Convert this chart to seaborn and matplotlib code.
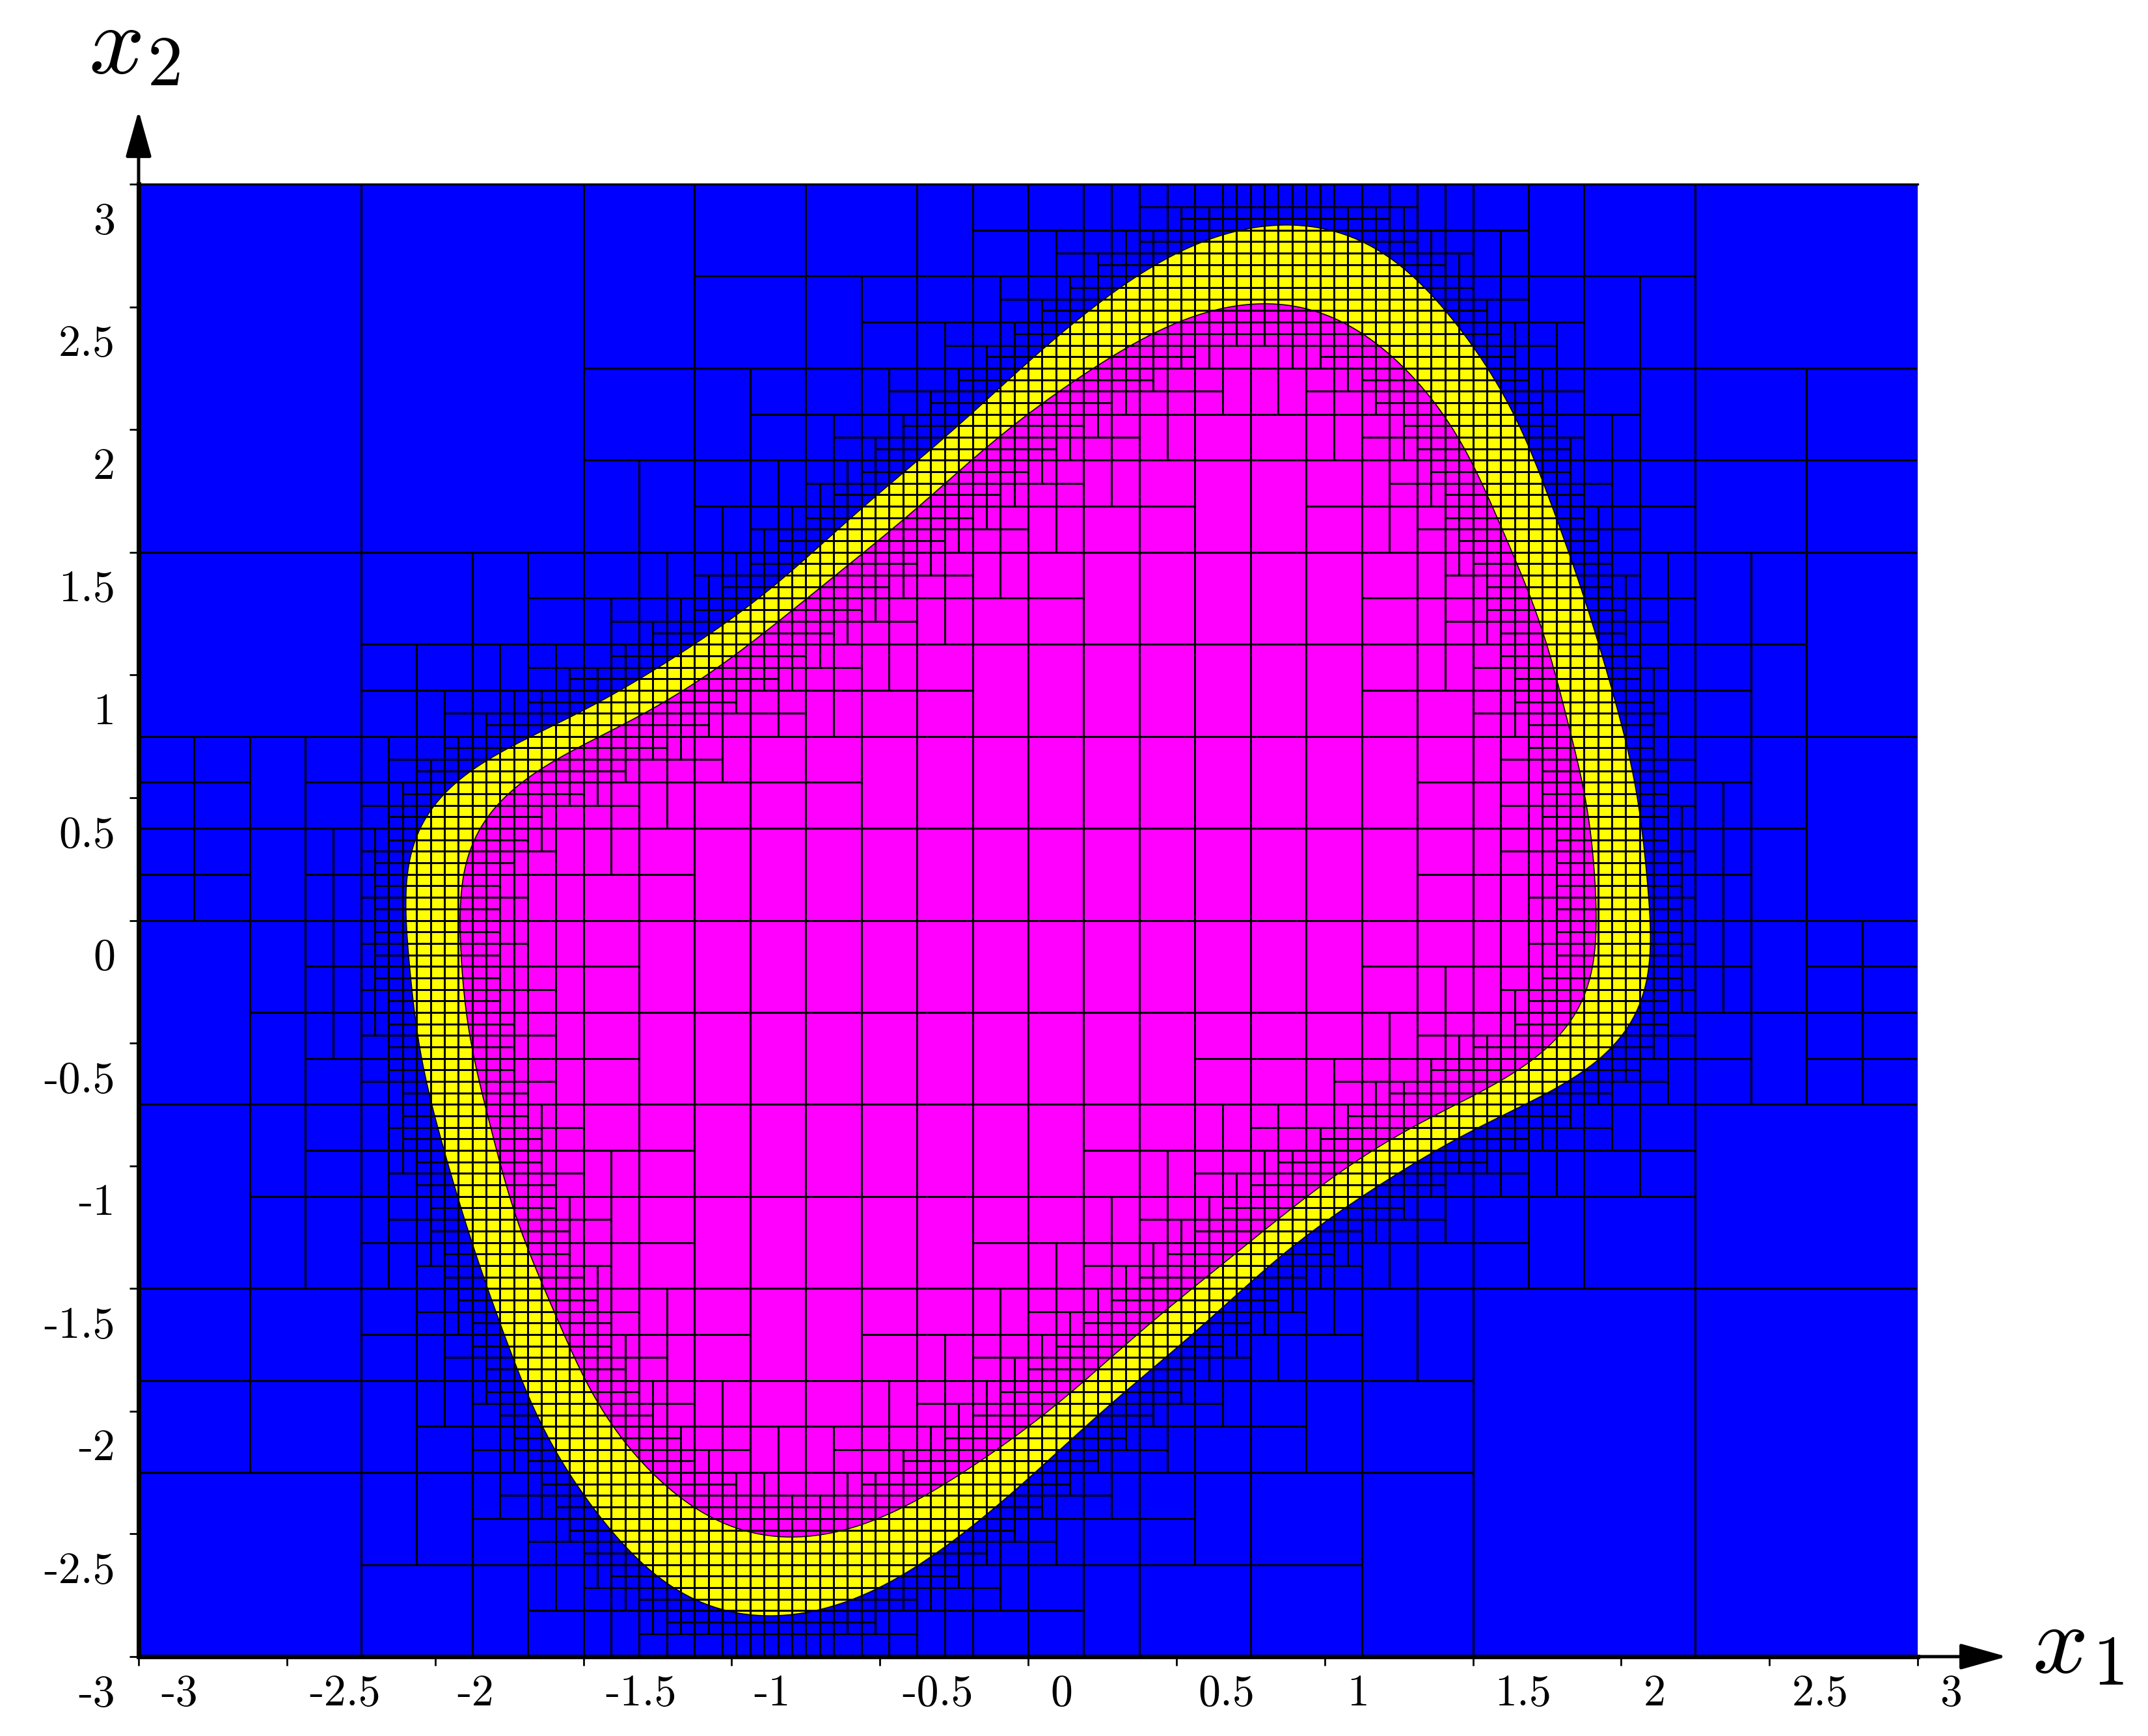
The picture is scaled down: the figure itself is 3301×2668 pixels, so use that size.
import numpy as np
import seaborn as sns
import matplotlib.pyplot as plt
from matplotlib.collections import PolyCollection
from matplotlib.path import Path

# -------------------------------
# 1. Values
# -------------------------------
outer_x = [-1.882, -1.974, -2.036, -2.082, -2.097, -2.090, -2.051, -1.989, -1.882, -1.774, -1.466, -1.174,
           -0.965, -0.657, -0.426, -0.195, -0.041, 0.113, 0.267, 0.420, 0.574, 0.728, 0.859,
           1.076, 1.230, 1.383, 1.537, 1.615, 1.691, 1.768, 1.845, 1.922,
           2.014, 2.060, 2.087, 2.096, 2.078, 2.032, 1.959, 1.868, 1.723, 1.468, 1.249, 1.086,
           0.882, 0.574, 0.267, -0.041, -0.349, -0.580, -0.811, -0.903, -1.119, -1.273,
           -1.497, -1.620, -1.774]
outer_y = [-1.287, -0.940, -0.621, -0.271, 0.034, 0.216, 0.384, 0.490, 0.612, 0.688, 0.901, 1.099,
           1.257, 1.576, 1.812, 2.086, 2.231, 2.413, 2.550, 2.665, 2.756, 2.817, 2.836,
           2.794, 2.687, 2.520, 2.261, 2.094, 1.926, 1.683, 1.439, 1.120,
           0.718, 0.460, 0.186, -0.042, -0.271, -0.423, -0.529, -0.613, -0.712, -0.864, -1.016, -1.153,
           -1.345, -1.668, -1.976, -2.284, -2.607, -2.754, -2.828, -2.835, -2.769, -2.651,
           -2.343, -2.138, -1.653]

inner_x = [-1.708, -1.820, -1.882, -1.913, -1.913, -1.897, -1.836, -1.728, -1.543, -1.312, -1.053,
           -0.811, -0.657, -0.503, -0.349, -0.195, -0.041, 0.113, 0.267, 0.420, 0.574, 0.790, 0.959,
           1.230, 1.383, 1.537, 1.615, 1.691, 1.768,
           1.814, 1.868, 1.905, 1.914, 1.905, 1.868, 1.814, 1.705, 1.541, 1.359, 1.140,
           0.728, 0.420, 0.113, -0.195, -0.426, -0.657, -0.811, -0.965, -1.119, -1.273,
           -1.466, -1.589]
inner_y = [-1.287, -0.803, -0.469, -0.195, 0.034, 0.232, 0.414, 0.551, 0.703, 0.871, 1.031,
           1.257, 1.394, 1.538, 1.698, 1.881, 2.018, 2.170, 2.292, 2.391, 2.467, 2.517, 2.474,
           2.292, 2.094, 1.759, 1.531, 1.318, 1.044,
           0.840, 0.566, 0.262, 0.034, -0.164, -0.316, -0.438, -0.552, -0.666, -0.788, -0.925,
           -1.330, -1.653, -1.947, -2.226, -2.387, -2.490, -2.516, -2.490, -2.402, -2.240,
           -1.932, -1.639]

tick_values = [-3, -2.5, -2, -1.5, -1, -0.5, 0, 0.5, 1, 1.5, 2, 2.5, 3]
tick_labels = ["-3", "-2.5", "-2", "-1.5", "-1", "-0.5", "0", "0.5", "1", "1.5", "2", "2.5", "3"]

# boxes of the paving seen in the picture: split further (x0, x1, y0, y1, largest mean cell side)
forced_split = [(-3, -2.625, 0, 0.75, 0.2),
                (-3, -2.25, -2.25, -1.5, 0.4),
                (-2.25, -1.5, 1.5, 2.25, 0.6),
                (-1.5, -0.75, 2.25, 3, 0.6),
                (-1.125, -0.75, 2.25, 3, 0.4)]

k_inner = 1.5
max_depth = 14

W, H = 3301, 2668
left, right, top, bottom = 213, 2947, 283, 2546


# -------------------------------
# 2. Boundaries and subdivision
# -------------------------------
def smooth_closed(xs, ys, harmonics=17, n=900):
    # odd harmonics only, the curve maps onto itself through the origin
    z = np.array(xs) + 1j * np.array(ys)
    seg = np.abs(np.roll(z, -1) - z)
    t = np.r_[0, np.cumsum(seg)[:-1]] / seg.sum() * 2 * np.pi
    k = np.arange(-harmonics, harmonics + 1, 2)
    coef = np.linalg.lstsq(np.exp(1j * np.outer(t, k)), z, rcond=1e-3)[0]
    tt = np.linspace(0, 2 * np.pi, n, endpoint=False)
    zz = np.exp(1j * np.outer(tt, k)) @ coef
    return np.c_[zz.real, zz.imag]


outer = smooth_closed(outer_x, outer_y)
inner = smooth_closed(inner_x, inner_y)
outer_path = Path(np.r_[outer, outer[:1]])
inner_path = Path(np.r_[inner, inner[:1]])


def box_dist(x0, x1, y0, y1, pts):
    dx = np.maximum(np.maximum(x0 - pts[:, 0], pts[:, 0] - x1), 0)
    dy = np.maximum(np.maximum(y0 - pts[:, 1], pts[:, 1] - y1), 0)
    return np.sqrt(dx * dx + dy * dy).min()


def k_outer(size):
    if size <= 0.3:
        return 1.0
    if size <= 0.6:
        return 0.85
    return 0.45


def must_split(x0, x1, y0, y1):
    if x1 - x0 > 0.75:
        return True
    for a, b, c, d, side in forced_split:
        for sign in (1, -1):
            p0, p1 = sorted((sign * a, sign * b))
            q0, q1 = sorted((sign * c, sign * d))
            inside = x0 >= p0 and x1 <= p1 and y0 >= q0 and y1 <= q1
            if inside and ((x1 - x0) + (y1 - y0)) / 2 > side:
                return True
    return False


cells = []
stack = [(-3.0, 3.0, -3.0, 3.0, 0)]
while stack:
    x0, x1, y0, y1, depth = stack.pop()
    size = ((x1 - x0) + (y1 - y0)) / 2
    c = ((x0 + x1) / 2, (y0 + y1) / 2)
    stop = depth >= max_depth
    if not stop and not outer_path.contains_point(c):
        stop = box_dist(x0, x1, y0, y1, outer) > k_outer(size) * size
    elif not stop and inner_path.contains_point(c):
        stop = box_dist(x0, x1, y0, y1, inner) > k_inner * size and size < 0.375
    if stop and depth < max_depth and must_split(x0, x1, y0, y1):
        stop = False
    if stop:
        cells.append([(x0, y0), (x1, y0), (x1, y1), (x0, y1)])
    elif depth % 2 == 0:
        xm = (x0 + x1) / 2
        stack += [(x0, xm, y0, y1, depth + 1), (xm, x1, y0, y1, depth + 1)]
    else:
        ym = (y0 + y1) / 2
        stack += [(x0, x1, y0, ym, depth + 1), (x0, x1, ym, y1, depth + 1)]

# -------------------------------
# 3. Plot
# -------------------------------
sns.set_theme(style="white")
plt.rcParams["font.family"] = ["cmr10", "DejaVu Sans"]
plt.rcParams["mathtext.fontset"] = "cm"
plt.rcParams["axes.formatter.use_mathtext"] = True

fig = plt.figure(figsize=(W / 100, H / 100), dpi=100, facecolor="white")
ax = fig.add_axes([left / W, 1 - bottom / H, (right - left) / W, (bottom - top) / H])
ax.set_xlim(-3, 3)
ax.set_ylim(-3, 3)
ax.set_facecolor("#0000ff")

ax.fill(outer[:, 0], outer[:, 1], color="#ffff00", lw=0, zorder=1)
ax.fill(inner[:, 0], inner[:, 1], color="#ff00ff", lw=0, zorder=2)
sns.lineplot(x=np.r_[outer[:, 0], outer[0, 0]], y=np.r_[outer[:, 1], outer[0, 1]], sort=False,
             estimator=None, color="black", lw=1.2, ax=ax, zorder=3)
sns.lineplot(x=np.r_[inner[:, 0], inner[0, 0]], y=np.r_[inner[:, 1], inner[0, 1]], sort=False,
             estimator=None, color="black", lw=1.2, ax=ax, zorder=3)
ax.add_collection(PolyCollection(cells, facecolors="none", edgecolors="black", linewidths=2.1, zorder=4))

ax.spines["right"].set_visible(False)
ax.spines["top"].set_linewidth(2.4)
ax.spines["left"].set_linewidth(5)
ax.spines["bottom"].set_linewidth(5)
for s in ax.spines.values():
    s.set_color("black")
    s.set_zorder(6)

ax.set_xticks(tick_values)
ax.set_yticks(tick_values)
ax.tick_params(axis="both", length=10, width=2, direction="out", color="black",
               bottom=True, left=True, labelbottom=False, labelleft=False, pad=0)
ax.set_xlabel("")
ax.set_ylabel("")

# tick labels sit beside their ticks, not under them
for v, s in zip(tick_values, tick_labels):
    ax.annotate(s, (v, 0), xycoords=("data", "axes fraction"), xytext=(34 * 0.72, -57 * 0.72),
                textcoords="offset points", ha="left", va="center", fontsize=49, color="black")
    ax.annotate(s, (0, v), xycoords=("axes fraction", "data"), xytext=(-36 * 0.72, -58 * 0.72),
                textcoords="offset points", ha="right", va="center", fontsize=49, color="black")

# axis arrows, with a narrow stealth-like head
ax.annotate("", xy=((3084 - left) / (right - left), 0), xytext=(0.99, 0), xycoords="axes fraction",
            arrowprops=dict(arrowstyle="-|>,head_length=1.0,head_width=0.28", lw=3.6, color="black",
                            mutation_scale=44, shrinkA=0, shrinkB=0), annotation_clip=False)
ax.annotate("", xy=(0, (bottom - 170) / (bottom - top)), xytext=(0, 0.99), xycoords="axes fraction",
            arrowprops=dict(arrowstyle="-|>,head_length=1.0,head_width=0.28", lw=3.6, color="black",
                            mutation_scale=44, shrinkA=0, shrinkB=0), annotation_clip=False)

# axis names, letter and subscript placed one by one
fig.text(136 / W, 1 - 112 / H, r"$x$", fontsize=108, ha="left", va="baseline", color="black")
fig.text(226 / W, 1 - 131 / H, r"$2$", fontsize=78, ha="left", va="baseline", color="black")
fig.text(3123 / W, 1 - 2570 / H, r"$x$", fontsize=108, ha="left", va="baseline", color="black")
fig.text(3216 / W, 1 - 2589 / H, r"$1$", fontsize=78, ha="left", va="baseline", color="black")

fig.savefig("out.png", dpi=100)
